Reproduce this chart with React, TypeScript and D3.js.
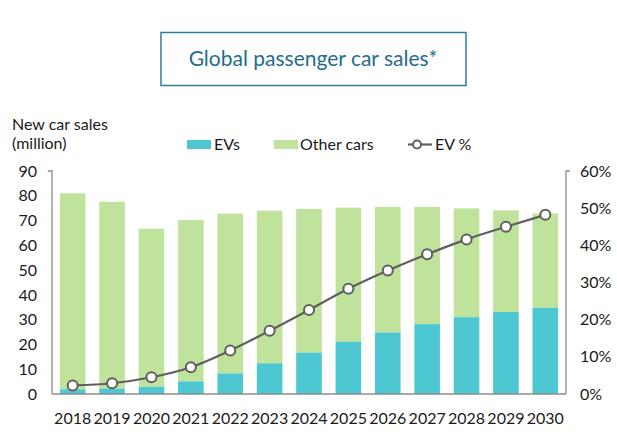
import React, { useEffect, useRef } from 'react';
import * as d3 from 'd3';

const years = ['2018', '2019', '2020', '2021', '2022', '2023', '2024', '2025', '2026', '2027', '2028', '2029', '2030'];
const evSales = [1.9, 2.2, 2.9, 5.1, 8.3, 12.4, 16.7, 21.1, 24.8, 28.2, 31.0, 33.1, 34.8];
const totalSales = [81.0, 77.6, 66.7, 70.2, 72.8, 74.0, 74.7, 75.2, 75.5, 75.5, 74.9, 74.1, 72.9];
const evShare = [2.3, 2.9, 4.5, 7.2, 11.7, 17.0, 22.6, 28.3, 33.2, 37.6, 41.6, 45.0, 48.2];
const leftTicks = [0, 10, 20, 30, 40, 50, 60, 70, 80, 90];
const rightTicks = [0, 10, 20, 30, 40, 50, 60];

const EV_COLOR = '#4dc8d3';
const OTHER_COLOR = '#c0e39b';
const LINE_COLOR = '#5f5f5f';
const TEXT_COLOR = '#1a1a1a';
const FONT = 'Lato, "Open Sans", sans-serif';

const App: React.FC = () => {
  const ref = useRef<SVGSVGElement>(null);

  useEffect(() => {
    const width = 617;
    const height = 444;
    const left = 52;
    const right = 566;
    const top = 171;
    const bottom = 394;

    const svg = d3.select(ref.current);
    svg.selectAll('*').remove();
    svg.attr('width', width).attr('height', height);

    // title box
    svg.append('rect')
      .attr('x', 161).attr('y', 32.5).attr('width', 305).attr('height', 53)
      .attr('fill', '#fff').attr('stroke', '#2f7b9b').attr('stroke-width', 1.5);
    svg.append('text')
      .attr('x', 313).attr('y', 66).attr('text-anchor', 'middle')
      .style('font-family', FONT).style('font-size', '21px').attr('fill', '#1f6d8e')
      .text('Global passenger car sales*');

    const x = d3.scaleBand<string>().domain(years).range([left, right]).paddingInner(0.35).paddingOuter(0.2);
    const y = d3.scaleLinear().domain([0, 90]).range([bottom, top]);
    const y2 = d3.scaleLinear().domain([0, 60]).range([bottom, top]);

    const rows = years.map((yr, i) => ({ yr, ev: evSales[i], total: totalSales[i], share: evShare[i] }));

    // other cars sit on top of the EVs
    svg.selectAll('.other')
      .data(rows).enter().append('rect')
      .attr('x', d => x(d.yr)!)
      .attr('width', x.bandwidth())
      .attr('y', d => y(d.total))
      .attr('height', d => y(d.ev) - y(d.total))
      .attr('fill', OTHER_COLOR);

    svg.selectAll('.ev')
      .data(rows).enter().append('rect')
      .attr('x', d => x(d.yr)!)
      .attr('width', x.bandwidth())
      .attr('y', d => y(d.ev))
      .attr('height', d => y(0) - y(d.ev))
      .attr('fill', EV_COLOR);

    // axes
    const axisColor = '#8c8c8c';
    const leftAxis = svg.append('g').attr('transform', `translate(${left},0)`)
      .call(d3.axisLeft(y).tickValues(leftTicks).tickSize(4).tickPadding(11));
    const rightAxis = svg.append('g').attr('transform', `translate(${right},0)`)
      .call(d3.axisRight(y2).tickValues(rightTicks).tickSize(4).tickPadding(10).tickFormat(d => `${d}%`));
    const bottomAxis = svg.append('g').attr('transform', `translate(0,${bottom})`)
      .call(d3.axisBottom(x).tickSize(0).tickPadding(19));

    [leftAxis, rightAxis, bottomAxis].forEach(g => {
      g.select('.domain').attr('stroke', axisColor).attr('stroke-width', 1.3);
      g.selectAll('.tick line').attr('stroke', axisColor);
      g.selectAll('text').style('font-family', FONT).style('font-size', '16px').attr('fill', TEXT_COLOR);
    });
    leftAxis.selectAll('.tick line').remove();
    rightAxis.selectAll('.tick line').remove();
    leftAxis.select('.domain').attr('d', `M-4,${top}H0V${bottom}`);
    rightAxis.select('.domain').attr('d', `M4,${top}H0V${bottom}`);
    bottomAxis.select('.domain').attr('d', `M${left},0H${right}`);

    // EV % line
    const line = d3.line<typeof rows[0]>()
      .x(d => x(d.yr)! + x.bandwidth() / 2)
      .y(d => y2(d.share))
      .curve(d3.curveMonotoneX);
    svg.append('path').datum(rows).attr('d', line)
      .attr('fill', 'none').attr('stroke', LINE_COLOR).attr('stroke-width', 2.2);
    svg.selectAll('.dot')
      .data(rows).enter().append('circle')
      .attr('cx', d => x(d.yr)! + x.bandwidth() / 2)
      .attr('cy', d => y2(d.share))
      .attr('r', 5)
      .attr('fill', '#fff').attr('stroke', LINE_COLOR).attr('stroke-width', 2);

    // y axis title
    const ttl = svg.append('text').style('font-family', FONT).style('font-size', '16px').attr('fill', TEXT_COLOR);
    ttl.append('tspan').attr('x', 12).attr('y', 130).text('New car sales');
    ttl.append('tspan').attr('x', 12).attr('y', 149).text('(million)');

    // legend
    const lg = svg.append('g').style('font-family', FONT).style('font-size', '16px');
    lg.append('rect').attr('x', 187).attr('y', 140).attr('width', 24).attr('height', 9).attr('fill', EV_COLOR);
    lg.append('text').attr('x', 214).attr('y', 150).attr('fill', TEXT_COLOR).text('EVs');
    lg.append('rect').attr('x', 274).attr('y', 140).attr('width', 24).attr('height', 9).attr('fill', OTHER_COLOR);
    lg.append('text').attr('x', 300).attr('y', 150).attr('fill', TEXT_COLOR).text('Other cars');
    lg.append('line').attr('x1', 408).attr('x2', 432).attr('y1', 144.5).attr('y2', 144.5)
      .attr('stroke', LINE_COLOR).attr('stroke-width', 2.2);
    lg.append('circle').attr('cx', 417).attr('cy', 144.5).attr('r', 4)
      .attr('fill', '#fff').attr('stroke', LINE_COLOR).attr('stroke-width', 2);
    lg.append('text').attr('x', 435).attr('y', 150).attr('fill', TEXT_COLOR).text('EV %');
  }, []);

  return (
    <div style={{ position: 'absolute', left: 0, top: 0 }}>
      <svg ref={ref}></svg>
    </div>
  );
};

export default App;
